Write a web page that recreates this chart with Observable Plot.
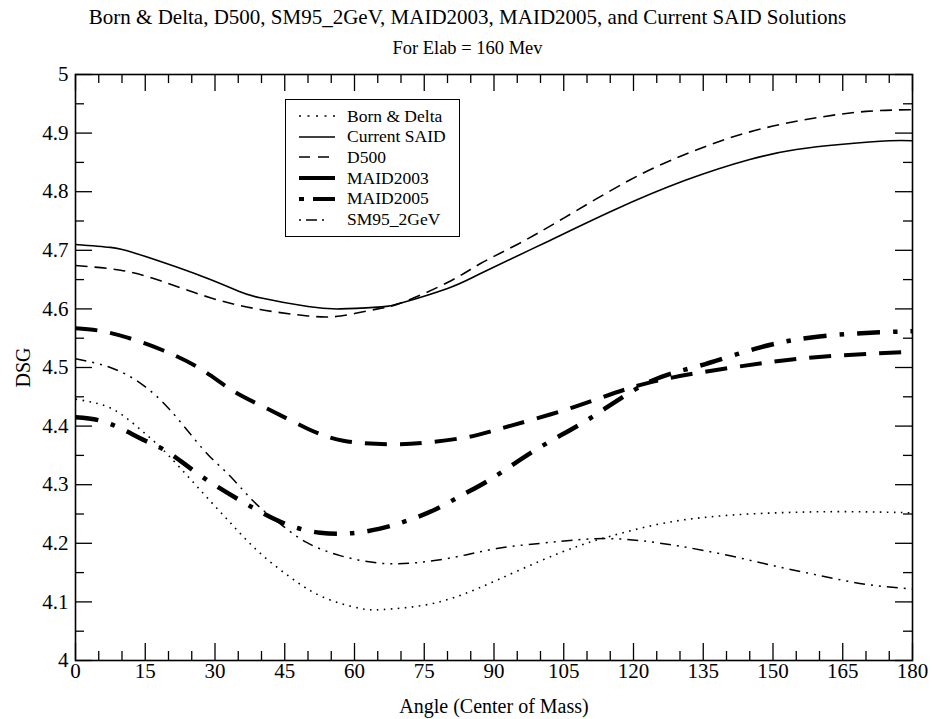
<!DOCTYPE html>
<html><head><meta charset="utf-8">
<script src="https://cdn.jsdelivr.net/npm/d3@7"></script>
<script src="https://cdn.jsdelivr.net/npm/@observablehq/plot@0.6"></script>
<style>
body{margin:0;background:#fff;font-family:"Liberation Serif","Times New Roman",serif;color:#000;}
#wrap{position:relative;width:935px;height:719px;overflow:hidden;}
.title{position:absolute;left:0;width:935px;text-align:center;line-height:22px;white-space:nowrap;}
#t1{top:6px;font-size:21px;}
#t2{top:37px;font-size:18.5px;}
#chart{position:absolute;left:0;top:60px;}
#chart svg, #chart svg text{font-family:"Liberation Serif","Times New Roman",serif !important;}
#legend{position:absolute;left:285px;top:99px;width:175px;height:138px;border:1.6px solid #000;background:#fff;box-sizing:border-box;}
.row{position:absolute;left:0;height:20px;display:flex;align-items:center;font-size:17.5px;white-space:nowrap;}
.row svg{margin-left:13px;margin-right:12px;}
</style></head>
<body>
<div id="wrap">
  <div class="title" id="t1">Born &amp; Delta, D500, SM95_2GeV, MAID2003, MAID2005, and Current SAID Solutions</div>
  <div class="title" id="t2">For Elab = 160 Mev</div>
  <div id="chart"></div>
  <div id="legend"></div>
</div>
<script>
// ---- data (angle in degrees, DSG) ----
const bornAngles = [0,5,9.7,15,20,27.5,33.3,39.3,46.2,53.3,61.2,66.2,74.7,82.7,90.6,100,108,115,125,135,145,155,165,175,180];
const bornValues = [4.446,4.438,4.421,4.387,4.35,4.285,4.235,4.186,4.142,4.108,4.089,4.087,4.094,4.111,4.137,4.17,4.195,4.212,4.232,4.244,4.25,4.253,4.254,4.253,4.252];

const saidAngles = [0,7.5,12.5,21.9,29,34.8,39.7,50,57,65,70,80,87,101,115.6,131,145,155,165,175,180];
const saidValues = [4.71,4.705,4.696,4.671,4.65,4.631,4.619,4.604,4.6,4.603,4.61,4.635,4.66,4.713,4.768,4.819,4.855,4.872,4.881,4.887,4.887];

const d500Angles = [0,9.7,18.3,29,39.7,50,57,65,70,80,87,95,105,119,130,140,150,160,170,180];
const d500Values = [4.674,4.666,4.648,4.619,4.599,4.588,4.588,4.6,4.61,4.645,4.677,4.71,4.755,4.819,4.86,4.89,4.912,4.927,4.937,4.94];

const maid03Angles = [0,5,11.2,18.9,26.8,33.9,41.2,49.8,57.6,67,75.6,84.2,90.6,107,122.8,141.3,158.5,180];
const maid03Values = [4.567,4.563,4.551,4.529,4.498,4.46,4.43,4.396,4.375,4.369,4.372,4.381,4.394,4.432,4.473,4.5,4.517,4.527];

const maid05Angles = [0,5,10,15,20,26.8,34.8,40.4,46.2,52.6,59,65.5,71.5,77.7,83.3,89.8,99.9,110.6,122.8,134.2,147.1,160,172.9,180];
const maid05Values = [4.415,4.41,4.395,4.375,4.355,4.316,4.276,4.251,4.23,4.218,4.217,4.225,4.239,4.259,4.283,4.312,4.364,4.413,4.473,4.503,4.534,4.553,4.56,4.562];

const sm95Angles = [0,7.5,14,20.4,27.5,32.2,36.1,39.7,44.7,49.8,56.9,65.5,73.5,82,90.6,100,108,115,122,130,140,150,160,170,180];
const sm95Values = [4.515,4.5,4.473,4.427,4.36,4.323,4.29,4.261,4.229,4.201,4.179,4.166,4.167,4.177,4.191,4.2,4.206,4.208,4.204,4.195,4.18,4.162,4.145,4.13,4.122];

const seriesNames = ["Born & Delta","Current SAID","D500","MAID2003","MAID2005","SM95_2GeV"];
const xMajorTicks = [0,15,30,45,60,75,90,105,120,135,150,165,180];
const xMinorTicks = [5,10,20,25,35,40,50,55,65,70,80,85,95,100,110,115,125,130,140,145,155,160,170,175];
const yMajorTicks = [4,4.1,4.2,4.3,4.4,4.5,4.6,4.7,4.8,4.9,5];
const yMinorTicks = [4.05,4.15,4.25,4.35,4.45,4.55,4.65,4.75,4.85,4.95];

// ---- styles ----
const styles = {
  "Born & Delta": {strokeWidth:1.6, strokeDasharray:"1.6,5.4", legendDash:"2,6.5"},
  "Current SAID": {strokeWidth:1.6, strokeDasharray:null, legendDash:null},
  "D500": {strokeWidth:1.6, strokeDasharray:"12,7", legendDash:"11,8"},
  "MAID2003": {strokeWidth:4, strokeDasharray:"22,13", legendDash:"30,0"},
  "MAID2005": {strokeWidth:4.5, strokeDasharray:"23,13,4.5,13", legendDash:"5,9,17,0"},
  "SM95_2GeV": {strokeWidth:1.5, strokeDasharray:"11,6,2,6,2,6", legendDash:"2,5,11,5,2,20"}
};
const seriesData = {
  "Born & Delta": [bornAngles, bornValues],
  "Current SAID": [saidAngles, saidValues],
  "D500": [d500Angles, d500Values],
  "MAID2003": [maid03Angles, maid03Values],
  "MAID2005": [maid05Angles, maid05Values],
  "SM95_2GeV": [sm95Angles, sm95Values]
};
const toRows = (a, v) => a.map((x, i) => ({x, y: v[i]}));

const lineMarks = seriesNames.map(name => {
  const [a, v] = seriesData[name];
  const s = styles[name];
  const opts = {x:"x", y:"y", stroke:"#000", strokeWidth:s.strokeWidth, curve:"natural", strokeLinecap:"butt", strokeLinejoin:"round"};
  if (s.strokeDasharray) opts.strokeDasharray = s.strokeDasharray;
  return Plot.line(toRows(a, v), opts);
});

const W = 935, H = 659, ML = 75, MR = 23, MT = 14, MB = 59;
const FW = W - ML - MR, FH = H - MT - MB;
const MAJ = 17, MIN = 9;
const fmtY = d => String(Math.round(d * 10) / 10);
const tk = {stroke:"#000", strokeWidth:1.3};

const chart = Plot.plot({
  width: W,
  height: H,
  marginLeft: ML,
  marginRight: MR,
  marginTop: MT,
  marginBottom: MB,
  style: {fontFamily:"Liberation Serif, serif", background:"#fff", color:"#000"},
  x: {domain:[0,180]},
  y: {domain:[4,5]},
  marks: [
    ...lineMarks,
    // inward ticks (bottom / top / left / right)
    Plot.ruleX(xMajorTicks, {x:d=>d, insetTop:FH-MAJ, ...tk}),
    Plot.ruleX(xMinorTicks, {x:d=>d, insetTop:FH-MIN, ...tk}),
    Plot.ruleX(xMajorTicks, {x:d=>d, insetBottom:FH-MAJ, ...tk}),
    Plot.ruleX(xMinorTicks, {x:d=>d, insetBottom:FH-MIN, ...tk}),
    Plot.ruleY(yMajorTicks, {y:d=>d, insetRight:FW-MAJ, ...tk}),
    Plot.ruleY(yMinorTicks, {y:d=>d, insetRight:FW-MIN, ...tk}),
    Plot.ruleY(yMajorTicks, {y:d=>d, insetLeft:FW-MAJ, ...tk}),
    Plot.ruleY(yMinorTicks, {y:d=>d, insetLeft:FW-MIN, ...tk}),
    // labels
    Plot.axisX(xMajorTicks, {anchor:"bottom", tickSize:0, tickPadding:3, fontSize:21, label:"Angle (Center of Mass)", labelAnchor:"center", labelOffset:52, labelArrow:"none"}),
    Plot.axisY(yMajorTicks, {anchor:"left", tickSize:0, tickPadding:7, fontSize:21, tickFormat:fmtY, label:"DSG", labelAnchor:"center", labelOffset:60, labelArrow:"none"}),
    Plot.frame({stroke:"#000", strokeWidth:1.6})
  ]
});
document.getElementById("chart").appendChild(chart);
// axis titles at 20px
chart.querySelectorAll("[aria-label='x-axis label'] text, [aria-label='y-axis label'] text").forEach(t => t.setAttribute("font-size", "20"));

// ---- legend ----
const legend = document.getElementById("legend");
seriesNames.forEach((name, i) => {
  const s = styles[name];
  const row = document.createElement("div");
  row.className = "row";
  row.style.top = (6 + i * 20.7) + "px";
  const w = 36;
  const sw = Math.min(s.strokeWidth, 4);
  const dash = s.legendDash ? `stroke-dasharray="${s.legendDash}"` : "";
  row.innerHTML = `<svg width="${w}" height="8"><line x1="0" y1="4" x2="${w}" y2="4" stroke="#000" stroke-width="${sw}" ${dash}/></svg><span>${name.replace("&","&amp;")}</span>`;
  legend.appendChild(row);
});
</script>
</body></html>
